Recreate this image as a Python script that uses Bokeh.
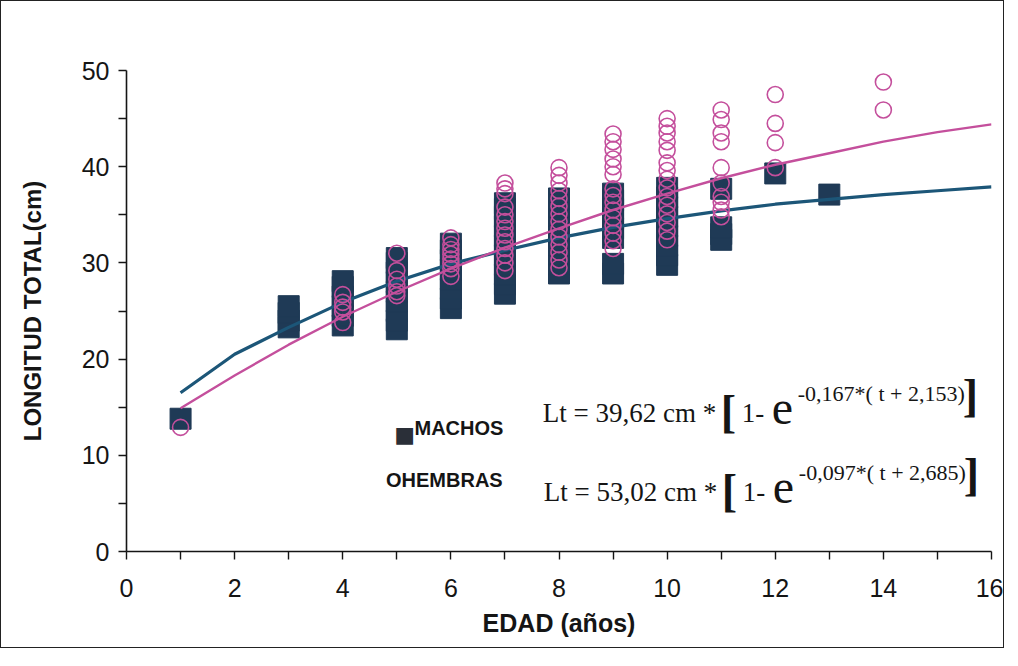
from bokeh.plotting import figure
from bokeh.models import Label, FixedTicker
from bokeh.embed import file_html
from bokeh.resources import INLINE

# ---------------- data ----------------
x_ticks = [0, 2, 4, 6, 8, 10, 12, 14, 16]
x_minor = [1, 3, 5, 7, 9, 11, 13, 15]
y_ticks = [0, 10, 20, 30, 40, 50]
y_minor = [5, 15, 25, 35, 45]

# fitted growth curves (read at each age)
edad_curva = [1, 2, 3, 4, 5, 6, 7, 8, 9, 10, 11, 12, 13, 14, 15, 16]
lt_curva_machos = [16.5, 20.5, 23.3, 25.9, 28.1, 29.9, 31.3, 32.6, 33.7, 34.6,
                   35.4, 36.1, 36.6, 37.1, 37.5, 37.9]
lt_curva_hembras = [14.9, 18.3, 21.5, 24.4, 27.0, 29.4, 31.6, 33.6, 35.5, 37.2,
                    38.8, 40.2, 41.4, 42.6, 43.6, 44.4]

# observed total length (cm) of males, by age (years)
machos_1 = [13.8]
machos_3 = [23.3, 24.0, 24.8, 25.5]
machos_4 = [23.5, 24.5, 25.5, 26.5, 27.5, 28.1]
machos_5 = [23.1, 24.0, 25.0, 26.0, 27.0, 28.0, 29.0, 30.0, 30.5]
machos_6 = [25.3, 26.3, 27.3, 28.3, 29.3, 30.3, 31.3, 32.0]
machos_7 = [26.8, 27.8, 28.8, 29.8, 30.8, 31.8, 32.8, 33.8, 34.8, 35.6, 36.2]
machos_8 = [28.9, 29.9, 30.9, 31.9, 32.9, 33.9, 34.9, 35.9, 36.7]
machos_9 = [28.9, 29.9, 32.6, 33.6, 34.6, 35.6, 36.5, 37.2]
machos_10 = [29.8, 30.8, 31.8, 32.8, 33.8, 34.8, 35.8, 36.8, 37.8]
machos_11 = [32.4, 33.0, 33.7, 37.7]
machos_12 = [39.3]
machos_13 = [37.1]

# observed total length (cm) of females, by age (years)
hembras_1 = [12.9]
hembras_4 = [23.8, 24.9, 25.4, 25.9, 26.7]
hembras_5 = [26.6, 27.0, 27.6, 28.3, 29.2, 31.0]
hembras_6 = [28.6, 29.4, 29.9, 30.4, 30.9, 31.4, 31.9, 32.6]
hembras_7 = [29.2, 30.0, 30.8, 31.5, 32.2, 32.9, 33.6, 34.3, 35.0, 35.8, 37.2, 37.7, 38.3]
hembras_8 = [29.5, 30.3, 31.1, 31.9, 32.7, 33.5, 34.3, 35.1, 35.9, 36.7, 37.5, 38.3, 39.1, 39.9]
hembras_9 = [31.5, 32.3, 33.1, 33.9, 34.7, 35.5, 36.3, 37.0, 37.7, 39.2, 40.0, 40.8, 41.8, 42.6, 43.4]
hembras_10 = [32.4, 33.3, 34.2, 35.1, 36.0, 36.9, 37.8, 38.7, 39.6, 40.4, 41.7, 42.6, 43.5, 44.2, 45.0]
hembras_11 = [34.8, 35.5, 36.3, 36.9, 38.3, 39.9, 42.6, 43.5, 44.9, 45.9]
hembras_12 = [39.9, 42.5, 44.5, 47.5]
hembras_14 = [45.9, 48.8]

machos = {1: machos_1, 3: machos_3, 4: machos_4, 5: machos_5, 6: machos_6, 7: machos_7,
          8: machos_8, 9: machos_9, 10: machos_10, 11: machos_11, 12: machos_12, 13: machos_13}
hembras = {1: hembras_1, 4: hembras_4, 5: hembras_5, 6: hembras_6, 7: hembras_7, 8: hembras_8,
           9: hembras_9, 10: hembras_10, 11: hembras_11, 12: hembras_12, 14: hembras_14}


def flatten(d):
    xs, ys = [], []
    for k, vals in d.items():
        for v in vals:
            xs.append(k)
            ys.append(v)
    return xs, ys


mx, my = flatten(machos)
hx, hy = flatten(hembras)

# ---------------- styles ----------------
NAVY = "#1f3a56"
BLUE_LINE = "#1c5678"
PINK = "#c44f9c"
SANS = "Liberation Sans"
SERIF = "Liberation Serif"
INK = "#151515"

p = figure(width=1004, height=648, x_range=(0, 16), y_range=(0, 50),
           output_backend="svg", toolbar_location=None,
           min_border_left=125, min_border_right=14,
           min_border_top=69, min_border_bottom=98)
p.styles = {"border": "1px solid #222"}
p.outline_line_color = None
p.xgrid.visible = False
p.ygrid.visible = False
p.background_fill_color = "white"
p.border_fill_color = "white"

p.xaxis.ticker = FixedTicker(ticks=x_ticks, minor_ticks=x_minor)
p.yaxis.ticker = FixedTicker(ticks=y_ticks, minor_ticks=y_minor)
for ax in (p.xaxis, p.yaxis):
    ax.axis_line_width = 1.6
    ax.axis_line_color = INK
    ax.major_tick_in = 0
    ax.major_tick_out = 8
    ax.minor_tick_in = 0
    ax.minor_tick_out = 8
    ax.major_tick_line_width = 1.4
    ax.minor_tick_line_width = 1.4
    ax.major_tick_line_color = INK
    ax.minor_tick_line_color = INK
    ax.major_label_text_font = SANS
    ax.major_label_text_font_size = "25px"
    ax.major_label_text_color = INK
    ax.axis_label_text_font = SANS
    ax.axis_label_text_font_style = "bold"
    ax.axis_label_text_color = INK

p.xaxis.axis_label = "EDAD (años)"
p.yaxis.axis_label = "LONGITUD TOTAL(cm)"
p.xaxis.axis_label_text_font_size = "25px"
p.yaxis.axis_label_text_font_size = "24px"
p.xaxis.major_label_standoff = 19
p.yaxis.major_label_standoff = 9
p.xaxis.axis_label_standoff = 9
p.yaxis.axis_label_standoff = 33

# males: stacked squares
p.scatter(mx, my, marker="square", size=21, fill_color=NAVY, line_color=NAVY)

# growth curves
p.line(edad_curva, lt_curva_machos, line_color=BLUE_LINE, line_width=3.2)
p.line(edad_curva, lt_curva_hembras, line_color=PINK, line_width=2.4)

# females: open circles
p.scatter(hx, hy, marker="circle", size=16, fill_color=None, line_color=PINK, line_width=1.6)

# ---------------- legend-like labels ----------------
p.add_layout(Label(x=5.07, y=12.2, x_offset=4, text="■", text_font="DejaVu Sans",
                   text_font_size="22px", text_color="#2a2f38",
                   text_align="center", text_baseline="middle"))
p.add_layout(Label(x=5.29, y=12.8, x_offset=2, text="MACHOS", text_font=SANS,
                   text_font_size="20px", text_font_style="bold", text_color=INK,
                   text_baseline="middle"))
p.add_layout(Label(x=4.8, y=7.4, text="OHEMBRAS", text_font=SANS, text_font_size="20px",
                   text_font_style="bold", text_color=INK, text_baseline="middle"))


# ---------------- equations ----------------
def equation(x, y, lhs, expo):
    parts = [
        (lhs, 0, 0, "27px", "normal"),
        ("[", 178, 2, "46px", "bold"),
        ("1-", 199, 0, "27px", "normal"),
        ("e", 229, 5, "48px", "normal"),
        (expo, 255, 20, "22px", "normal"),
        ("]", 420, 18, "46px", "bold"),
    ]
    for txt, dx, dy, fs, st in parts:
        p.add_layout(Label(x=x, y=y, x_offset=dx, y_offset=dy, text=txt,
                           text_font=SERIF, text_font_size=fs, text_font_style=st,
                           text_color=INK, text_align="left", text_baseline="middle"))


equation(7.7, 14.35, "Lt = 39,62 cm *", "-0,167*( t + 2,153)")
equation(7.72, 6.15, "Lt = 53,02 cm *", "-0,097*( t + 2,685)")

open("out.html", "w").write(file_html(p, INLINE))
